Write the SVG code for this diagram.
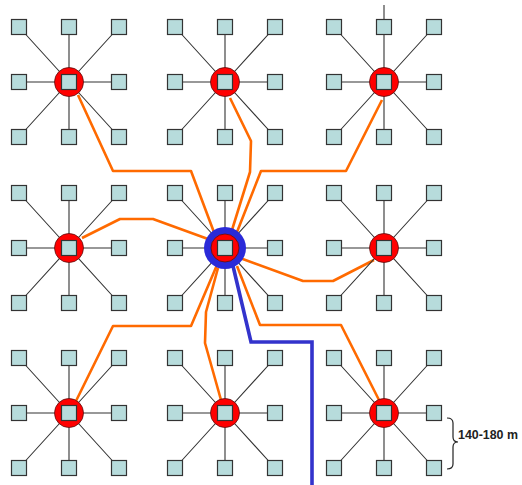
<svg xmlns="http://www.w3.org/2000/svg" xmlns:xlink="http://www.w3.org/1999/xlink" width="522" height="485" viewBox="0 0 522 485">
<style>
.spoke{stroke:#333;stroke-width:1.1;fill:none}
.leaf{fill:#b7dcdc;stroke:#333;stroke-width:1.2}
.hub{fill:#ff0000;stroke:#5a1010;stroke-width:0.8}
.ring{fill:#2a2ad8}
.or{fill:none;stroke:#ff6a00;stroke-width:2.6;stroke-linejoin:round}
.bl{fill:none;stroke:#3333cc;stroke-width:3.6;stroke-linejoin:miter}
.lbl{font-family:"Liberation Sans",Arial,sans-serif;font-weight:bold;font-size:12px;fill:#222}
</style>
<defs>
<g id="spokes">
<path class="spoke" d="M0 0L-50 -55M0 0L0 -55M0 0L50 -55M0 0L-50 0M0 0L50 0M0 0L-50 55M0 0L0 55M0 0L50 55"/>
</g>
<g id="leaves">
<rect class="leaf" x="-57.5" y="-62.5" width="15" height="15"/>
<rect class="leaf" x="-7.5" y="-62.5" width="15" height="15"/>
<rect class="leaf" x="42.5" y="-62.5" width="15" height="15"/>
<rect class="leaf" x="-57.5" y="-7.5" width="15" height="15"/>
<rect class="leaf" x="42.5" y="-7.5" width="15" height="15"/>
<rect class="leaf" x="-57.5" y="47.5" width="15" height="15"/>
<rect class="leaf" x="-7.5" y="47.5" width="15" height="15"/>
<rect class="leaf" x="42.5" y="47.5" width="15" height="15"/>
<rect class="leaf" x="-7.5" y="-7.5" width="15" height="15"/>
</g>
</defs>
<rect width="522" height="485" fill="#ffffff"/>
<g id="connectors">
<path class="or" d="M78 95L113 171L191 171L215 235"/>
<path class="or" d="M230 98L251 141L250 172L232 230"/>
<path class="or" d="M382 100L346 171L261 171L237 232"/>
<path class="or" d="M82 238L120 219L153 219L208 239"/>
<path class="or" d="M240 258L303 281L333 281L374 260"/>
<path class="or" d="M237 266L260 325L341 325L379 400"/>
<path class="or" d="M217 265L191 326L113 326L76 401"/>
<path class="or" d="M218 268L206 312L205 343L221 400"/>
<path class="bl" d="M233 266L251 342L312 342L312 485"/>
<path class="spoke" d="M384 5L384 20"/>
</g>
<g id="node-tl" transform="translate(69,82)"><use xlink:href="#spokes"/><circle class="hub" r="14.5"/><use xlink:href="#leaves"/></g>
<g id="node-tm" transform="translate(225,82)"><use xlink:href="#spokes"/><circle class="hub" r="14.5"/><use xlink:href="#leaves"/></g>
<g id="node-tr" transform="translate(384,82)"><use xlink:href="#spokes"/><circle class="hub" r="14.5"/><use xlink:href="#leaves"/></g>
<g id="node-ml" transform="translate(69,248)"><use xlink:href="#spokes"/><circle class="hub" r="14.5"/><use xlink:href="#leaves"/></g>
<g id="node-center" transform="translate(225,248)"><use xlink:href="#spokes"/><circle class="ring" r="21"/><circle class="hub" r="14"/><use xlink:href="#leaves"/></g>
<g id="node-mr" transform="translate(384,248)"><use xlink:href="#spokes"/><circle class="hub" r="14.5"/><use xlink:href="#leaves"/></g>
<g id="node-bl" transform="translate(69,413)"><use xlink:href="#spokes"/><circle class="hub" r="14.5"/><use xlink:href="#leaves"/></g>
<g id="node-bm" transform="translate(225,413)"><use xlink:href="#spokes"/><circle class="hub" r="14.5"/><use xlink:href="#leaves"/></g>
<g id="node-br" transform="translate(384,413)"><use xlink:href="#spokes"/><circle class="hub" r="14.5"/><use xlink:href="#leaves"/></g>
<g id="scale">
<path d="M447 418Q453 418 453 423L453 437Q453 442 458 442Q453 442 453 447L453 464Q453 469 447 469" fill="none" stroke="#222" stroke-width="1.2"/>
<text class="lbl" x="458" y="439" textLength="60" lengthAdjust="spacingAndGlyphs">140-180 m</text>
</g>
</svg>
